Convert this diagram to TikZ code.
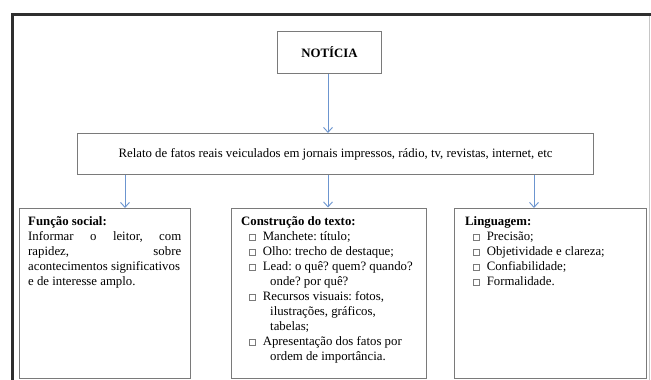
\documentclass[tikz,border=0pt]{standalone}
\usepackage{fontspec}
\setmainfont{Liberation Serif}
\usetikzlibrary{arrows.meta}
\definecolor{arrowblue}{HTML}{6C95CF}
\definecolor{boxgray}{HTML}{7A7A7A}
\definecolor{framedark}{HTML}{2E2E2E}
\frenchspacing
\newcommand\cbox{\tikz[baseline=0pt]\draw[boxgray,line width=0.6pt] (0pt,0.3pt) rectangle (5.5pt,5.8pt);}
\newcommand\itm[1]{\hspace*{8pt}\cbox\hspace*{7.5pt}#1}
\newcommand\cont[1]{\hspace*{29pt}#1}
\begin{document}
\begin{tikzpicture}[x=1pt,y=-1pt,
  box/.style={draw=boxgray,line width=1.1pt,inner sep=0pt,anchor=north west},
  txt/.style={font=\fontsize{12.8}{15}\selectfont,inner sep=0pt,align=left,anchor=north west},
  conn/.style={arrowblue,line width=0.9pt,-{Straight Barb[length=5pt,width=9pt]}}]
\useasboundingbox (0,0) rectangle (651,380);
\fill[white] (0,0) rectangle (651,380);
% frame
\draw[framedark,line width=3pt] (11,14.5) -- (651,14.5);
\draw[framedark,line width=3pt] (12.5,13) -- (12.5,380);
\draw[gray!45,line width=1pt] (649.5,16) -- (649.5,380);
% boxes
\node[box,minimum width=104pt,minimum height=42pt,font=\fontsize{12.8}{15}\selectfont\bfseries] (noticia) at (277,31) {NOTÍCIA};
\node[box,minimum width=516pt,minimum height=41pt,font=\fontsize{12.8}{15}\selectfont] (relato) at (77,133) {Relato de fatos reais veiculados em jornais impressos, rádio, tv, revistas, internet, etc};
\node[box,minimum width=171.5pt,minimum height=170pt] (funcao) at (18.5,208) {};
\node[box,minimum width=195pt,minimum height=170.5pt] (constr) at (231,207.5) {};
\node[box,minimum width=192pt,minimum height=170pt] (ling) at (454,208) {};
% texts
\node[txt] (funtxt) at (28,214.5) {\strut\textbf{Função social:}\\
\hbox to 153pt{Informar\hfill o\hfill leitor,\hfill com}\\
\hbox to 153pt{rapidez,\hfill sobre}\\
acontecimentos significativos\\
e de interesse amplo.};
\node[txt] (contxt) at (241,214.5) {\strut\textbf{Construção do texto:}\\
\itm{Manchete: título;}\\
\itm{Olho: trecho de destaque;}\\
\itm{Lead: o quê? quem? quando?}\\
\cont{onde? por quê?}\\
\itm{Recursos visuais: fotos,}\\
\cont{ilustrações, gráficos,}\\
\cont{tabelas;}\\
\itm{Apresentação dos fatos por}\\
\cont{ordem de importância.}};
\node[txt] (lingtxt) at (465,214.5) {\strut\textbf{Linguagem:}\\
\itm{Precisão;}\\
\itm{Objetividade e clareza;}\\
\itm{Confiabilidade;}\\
\itm{Formalidade.}};
% connectors
\coordinate (xa) at (125,0);
\coordinate (xb) at (328,0);
\coordinate (xc) at (534,0);
\draw[conn] (noticia.south -| xb) -- (relato.north -| xb);
\draw[conn] (relato.south -| xa) -- (funcao.north -| xa);
\draw[conn] (relato.south -| xb) -- (constr.north -| xb);
\draw[conn] (relato.south -| xc) -- (ling.north -| xc);
\end{tikzpicture}
\end{document}
